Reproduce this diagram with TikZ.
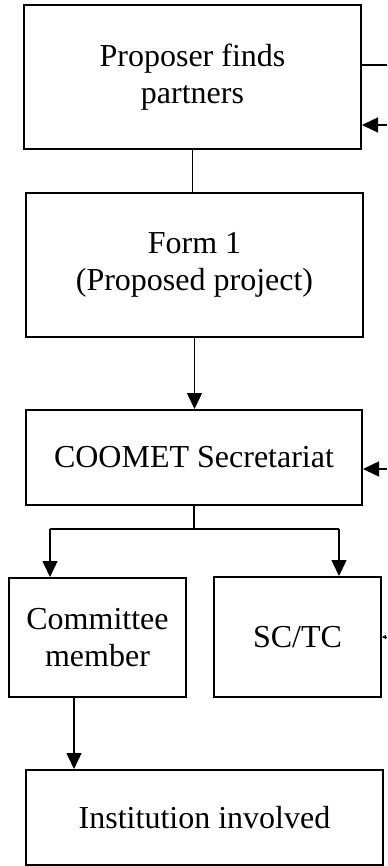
\documentclass[tikz,border=0pt]{standalone}
\usepackage{fontspec}
\setmainfont{Liberation Serif}
\usetikzlibrary{arrows.meta}
\usetikzlibrary{calc}

\begin{document}
\begin{tikzpicture}
  [x=0.5pt,y=-0.5pt,
  box/.style={rectangle,draw=black,line width=1pt,align=center,inner sep=0pt,
    font=\fontsize{16}{18.4}\selectfont},
  line/.style={black,line width=0.75pt},
  arr/.style={black,line width=0.75pt,-{Triangle[length=8pt,width=7.5pt]}},
  tinyarr/.style={black,line width=0.5pt,-{Triangle[length=2pt,width=2pt]}}]
  \useasboundingbox (0,0) rectangle (387,866);

  \node[box,minimum width=168.5pt,minimum height=72pt] (b1) at (192.5,77) {Proposer finds\\partners};
  \node[box,minimum width=168.5pt,minimum height=72pt] (b2) at (194.5,265) {Form 1\\(Proposed project)};
  \node[box,minimum width=168pt,minimum height=47.5pt] (b3) at (194,457.5) {COOMET Secretariat};
  \node[box,minimum width=88.5pt,minimum height=59.5pt] (b4) at (97.5,637.5) {Committee\\member};
  \node[box,minimum width=83.5pt,minimum height=60pt] (b5) at (297.5,637) {SC/TC};
  \node[box,minimum width=178.5pt,minimum height=47.5pt] (b6) at (204.5,817.5) {Institution involved};

  \coordinate (s1) at (50,529);
  \coordinate (s2) at (339,529);
  \coordinate (e1) at (387,65);
  \coordinate (e2) at (387,125);
  \coordinate (e3) at (387,469);
  \coordinate (e4) at (387,637);

  \draw [line] (b1.south) -- (b1.south |- b2.north);
  \draw [arr] (b2.south) -- (b2.south |- b3.north);

  \draw [line] (b3.south) -- (b3.south |- s1);
  \draw [line] (s1) -- (s2);
  \draw [arr] (s1) -- (s1 |- b4.north);
  \draw [arr] (s2) -- (s2 |- b5.north);

  \draw [arr] ([xshift=-11.75pt]b4.south) -- ([xshift=-11.75pt]b4.south |- b6.north);

  \draw [line] (b1.east |- e1) -- (e1);
  \draw [arr] (e2) -- (b1.east |- e2);
  \draw [arr] (e3) -- (b3.east |- e3);
  \draw [tinyarr] (e4) -- (b5.east |- e4);

\end{tikzpicture}
\end{document}
